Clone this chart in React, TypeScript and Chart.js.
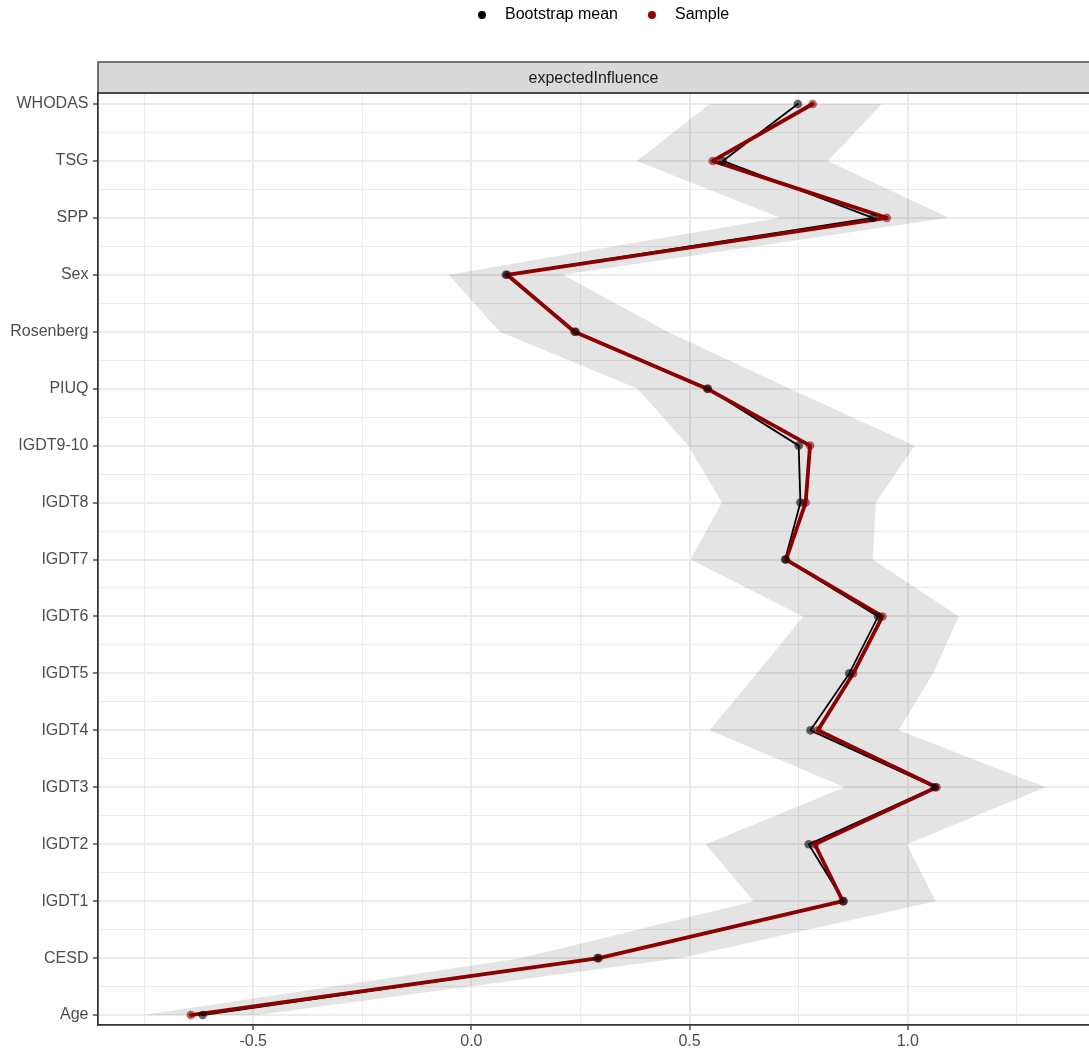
import React, { useEffect, useRef } from 'react';
import { Chart, registerables } from 'chart.js';

Chart.register(...registerables);

// Centrality estimates (expected influence), listed top to bottom
const categories = ['WHODAS', 'TSG', 'SPP', 'Sex', 'Rosenberg', 'PIUQ', 'IGDT9-10', 'IGDT8', 'IGDT7', 'IGDT6', 'IGDT5', 'IGDT4', 'IGDT3', 'IGDT2', 'IGDT1', 'CESD', 'Age'];
const bootstrapMean = [0.748, 0.576, 0.920, 0.079, 0.239, 0.542, 0.750, 0.754, 0.719, 0.932, 0.866, 0.777, 1.062, 0.773, 0.853, 0.289, -0.616];
const sampleValue = [0.782, 0.553, 0.952, 0.082, 0.236, 0.540, 0.776, 0.766, 0.721, 0.942, 0.875, 0.794, 1.066, 0.787, 0.851, 0.292, -0.643];
const ciLower = [0.546, 0.379, 0.707, -0.052, 0.065, 0.381, 0.497, 0.574, 0.502, 0.760, 0.654, 0.546, 0.855, 0.537, 0.647, 0.115, -0.750];
const ciUpper = [0.940, 0.817, 1.094, 0.210, 0.450, 0.730, 1.016, 0.927, 0.920, 1.117, 1.058, 0.979, 1.316, 0.998, 1.064, 0.480, -0.490];

const xMajorTicks = [-0.5, 0.0, 0.5, 1.0];
const xMinorTicks = [-0.75, -0.25, 0.25, 0.75, 1.25];
const legendLabels = ['Bootstrap mean', 'Sample'];
const panelTitle = 'expectedInfluence';

const FONT = '"Liberation Sans", Arial, Helvetica, sans-serif';
const SAMPLE_RED = '#8B0000';
const X_MIN = -0.8557;
const X_MAX = 1.4215;
const Y_MIN = -0.193;
const Y_MAX = 16.175;

const isMajorX = (v: number) => xMajorTicks.some((t) => Math.abs(t - v) < 1e-9);
const isMajorY = (v: number) => Math.abs(v - Math.round(v)) < 1e-9;

// Facet strip, panel frame and legend drawn around the plotting area
const decorPlugin = {
  id: 'decor',
  afterDraw(chart: any) {
    const { ctx, chartArea: a } = chart;
    ctx.save();
    const stripH = 31;
    const stripTop = a.top - stripH;
    ctx.fillStyle = '#D9D9D9';
    ctx.fillRect(a.left, stripTop, a.right - a.left, stripH);
    ctx.strokeStyle = '#333333';
    ctx.lineWidth = 1.3;
    ctx.strokeRect(a.left, stripTop, a.right - a.left, stripH);
    ctx.strokeRect(a.left, a.top, a.right - a.left, a.bottom - a.top);

    ctx.font = `16px ${FONT}`;
    ctx.fillStyle = '#1A1A1A';
    ctx.textAlign = 'center';
    ctx.textBaseline = 'middle';
    ctx.fillText(panelTitle, (a.left + 1089) / 2, stripTop + stripH / 2 + 1);

    // legend
    const colors = ['#000000', SAMPLE_RED];
    let x = 482;
    const y = 15;
    ctx.textAlign = 'left';
    legendLabels.forEach((label, i) => {
      ctx.fillStyle = colors[i];
      ctx.beginPath();
      ctx.arc(x, y, 4, 0, Math.PI * 2);
      ctx.fill();
      ctx.fillStyle = '#000000';
      ctx.fillText(label, x + 23, y);
      x = x + 23 + ctx.measureText(label).width + 34;
    });
    ctx.restore();
  },
};

export default function App() {
  const canvasRef = useRef<HTMLCanvasElement | null>(null);

  useEffect(() => {
    const canvas = canvasRef.current;
    if (!canvas) return;

    const toPoints = (vals: number[]) => vals.map((v, i) => ({ x: v, y: i }));
    const band = [...toPoints(ciLower), ...toPoints(ciUpper).reverse()];

    const yTicks: { value: number }[] = [];
    categories.forEach((_, i) => {
      yTicks.push({ value: i });
      if (i < categories.length - 1) yTicks.push({ value: i + 0.5 });
    });
    const xTicks = [...xMinorTicks, ...xMajorTicks].sort((p, q) => p - q).map((v) => ({ value: v }));

    const tickFont = { size: 16, family: FONT };

    const chart = new Chart(canvas, {
      type: 'scatter',
      data: {
        datasets: [
          {
            label: 'interval',
            data: band,
            showLine: true,
            fill: 'shape',
            backgroundColor: 'rgba(0,0,0,0.105)',
            borderColor: 'rgba(0,0,0,0)',
            borderWidth: 0,
            pointRadius: 0,
            order: 5,
          },
          {
            label: 'Bootstrap mean line',
            data: toPoints(bootstrapMean),
            showLine: true,
            borderColor: '#000000',
            borderWidth: 1.8,
            borderJoinStyle: 'round',
            borderCapStyle: 'round',
            pointRadius: 0,
            fill: false,
            order: 4,
          },
          {
            label: 'Sample line',
            data: toPoints(sampleValue),
            showLine: true,
            borderColor: SAMPLE_RED,
            borderWidth: 3.8,
            borderJoinStyle: 'round',
            borderCapStyle: 'round',
            pointRadius: 0,
            fill: false,
            order: 3,
          },
          {
            label: 'Sample',
            data: toPoints(sampleValue),
            showLine: false,
            pointRadius: 4.3,
            pointBorderWidth: 0,
            pointBackgroundColor: 'rgba(139,0,0,0.6)',
            order: 2,
          },
          {
            label: 'Bootstrap mean',
            data: toPoints(bootstrapMean),
            showLine: false,
            pointRadius: 4.3,
            pointBorderWidth: 0,
            pointBackgroundColor: 'rgba(0,0,0,0.6)',
            order: 1,
          },
        ],
      },
      options: {
        responsive: false,
        animation: false,
        devicePixelRatio: 1,
        events: [],
        layout: { padding: { top: 93, left: 0, right: 0, bottom: 0 } },
        plugins: {
          legend: { display: false },
          tooltip: { enabled: false },
        },
        scales: {
          x: {
            type: 'linear',
            min: X_MIN,
            max: X_MAX,
            afterBuildTicks: (s: any) => {
              s.ticks = xTicks.map((t) => ({ ...t }));
            },
            afterFit: (s: any) => {
              s.height = 28;
            },
            border: { display: true, color: '#333333', width: 1.3 },
            grid: {
              color: '#EBEBEB',
              lineWidth: (c: any) => (isMajorX(c.tick.value) ? 2 : 1),
              tickColor: (c: any) => (isMajorX(c.tick.value) ? '#333333' : 'rgba(0,0,0,0)'),
              tickLength: 5,
              tickWidth: 1.3,
            },
            ticks: {
              autoSkip: false,
              maxRotation: 0,
              minRotation: 0,
              padding: 2,
              color: '#4D4D4D',
              font: tickFont,
              callback: (v: any) => (isMajorX(Number(v)) ? Number(v).toFixed(1) : ''),
            },
          },
          y: {
            type: 'linear',
            reverse: true,
            min: Y_MIN,
            max: Y_MAX,
            afterBuildTicks: (s: any) => {
              s.ticks = yTicks.map((t) => ({ ...t }));
            },
            afterFit: (s: any) => {
              s.width = 98;
            },
            border: { display: true, color: '#333333', width: 1.3 },
            grid: {
              color: '#EBEBEB',
              lineWidth: (c: any) => (isMajorY(c.tick.value) ? 2 : 1),
              tickColor: (c: any) => (isMajorY(c.tick.value) ? '#333333' : 'rgba(0,0,0,0)'),
              tickLength: 5,
              tickWidth: 1.3,
            },
            ticks: {
              autoSkip: false,
              padding: 4.5,
              color: '#4D4D4D',
              font: tickFont,
              callback: (v: any) => (isMajorY(Number(v)) ? categories[Math.round(Number(v))] : ''),
            },
          },
        },
      },
      plugins: [decorPlugin],
    } as any);

    return () => chart.destroy();
  }, []);

  return (
    <div
      style={{
        position: 'absolute',
        left: 0,
        top: 0,
        width: 1089,
        height: 1053,
        overflow: 'hidden',
        background: '#FFFFFF',
      }}
    >
      <canvas ref={canvasRef} width={1096} height={1053} style={{ display: 'block', width: 1096, height: 1053 }} />
    </div>
  );
}
